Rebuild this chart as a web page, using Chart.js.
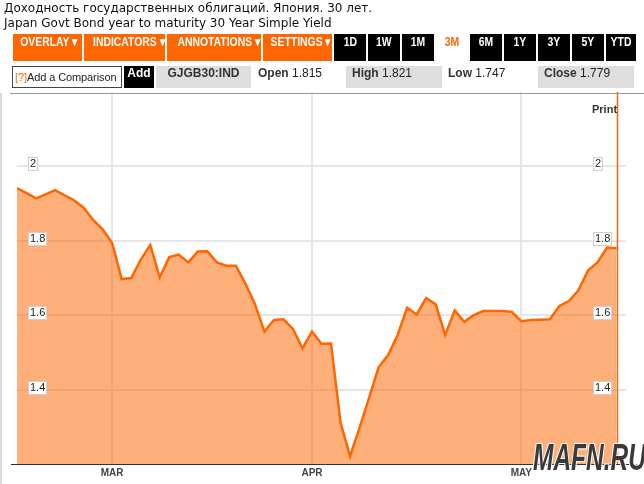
<!DOCTYPE html>
<html>
<head>
<meta charset="utf-8">
<script src="https://cdn.jsdelivr.net/npm/chart.js@4"></script>
<style>
  body { margin: 0; width: 644px; height: 484px; overflow: hidden; background: #fff; position: relative;
         font-family: 'DejaVu Sans', Verdana, sans-serif; }
  #chart { position: absolute; left: 0; top: 0; z-index: 0; }
  .abs { position: absolute; z-index: 1; }
  .t1, .t2 { left: 4px; font-size: 12px; color: #111; white-space: nowrap; }
  .t1 { top: 1px; }
  .t2 { top: 16px; }
  .btn { top: 34px; height: 27px; line-height: 27px; text-align: center; color: #fff; white-space: nowrap;
         font: bold 13px 'Liberation Sans', Arial, sans-serif; overflow: hidden; }
  .btn span { display: inline-block; transform: scaleX(0.8); }
  .or { background: #ff6600; }
  .bk { background: #000; }
  .sel { background: #fff; color: #ff6600; }
  .r2 { top: 66px; height: 22px; line-height: 22px; font: 12px 'Liberation Sans', Arial, sans-serif;
        color: #222; white-space: nowrap; box-sizing: border-box; }
  .gray { background: #dedede; }
  .r2 b { color: #333; }
  .print { left: 592px; top: 103px; font: bold 11px 'Liberation Sans', Arial, sans-serif; color: #333; }
  .wm { left: 533px; top: 437px; font: bold italic 36px 'Liberation Sans', Arial, sans-serif;
        color: #3a3a3a; z-index: 2; transform: scaleX(0.68); transform-origin: left top; white-space: nowrap;
        text-shadow: 1px 1px 0 #fff, -1px -1px 0 #fff, 1px -1px 0 #fff, -1px 1px 0 #fff; }
</style>
</head>
<body>
<canvas id="chart" width="644" height="484"></canvas>

<div class="abs t1">Доходность государственных облигаций. Япония. 30 лет.</div>
<div class="abs t2">Japan Govt Bond year to maturity 30 Year Simple Yield</div>

<div class="abs btn or" style="left:13px;width:69px"><span>OVERLAY ▾</span></div>
<div class="abs btn or" style="left:84px;width:81px"><span>INDICATORS ▾</span></div>
<div class="abs btn or" style="left:167px;width:94px"><span>ANNOTATIONS ▾</span></div>
<div class="abs btn or" style="left:263px;width:69px"><span>SETTINGS ▾</span></div>
<div class="abs btn bk" style="left:334px;width:32px"><span>1D</span></div>
<div class="abs btn bk" style="left:368px;width:32px"><span>1W</span></div>
<div class="abs btn bk" style="left:402px;width:32px"><span>1M</span></div>
<div class="abs btn sel" style="left:436px;width:32px"><span>3M</span></div>
<div class="abs btn bk" style="left:470px;width:32px"><span>6M</span></div>
<div class="abs btn bk" style="left:504px;width:32px"><span>1Y</span></div>
<div class="abs btn bk" style="left:538px;width:32px"><span>3Y</span></div>
<div class="abs btn bk" style="left:572px;width:32px"><span>5Y</span></div>
<div class="abs btn bk" style="left:606px;width:30px"><span>YTD</span></div>

<div class="abs r2" style="left:12px;width:110px;border:1px solid #444;line-height:20px;padding-left:2px;font-size:11px;letter-spacing:-0.1px"><span style="color:#ff6600">[?]</span>Add a Comparison</div>
<div class="abs r2" style="left:124px;width:30px;background:#000;color:#fff;font-weight:bold;text-align:center">Add</div>
<div class="abs r2 gray" style="left:156px;width:95px;text-align:center;font-weight:bold;color:#333">GJGB30:IND</div>
<div class="abs r2" style="left:258px;width:86px"><b>Open</b> 1.815</div>
<div class="abs r2 gray" style="left:346px;width:96px;padding-left:6px"><b>High</b> 1.821</div>
<div class="abs r2" style="left:448px;width:86px"><b>Low</b> 1.747</div>
<div class="abs r2 gray" style="left:538px;width:96px;padding-left:6px"><b>Close</b> 1.779</div>

<div class="abs" style="left:10px;top:93px;width:634px;height:1px;background:#999"></div>
<div class="abs" style="left:0;top:93px;width:2px;height:391px;background:#ddd"></div>
<div class="abs print">Print</div>
<div class="abs wm">MAFN.RU</div>

<script>
// GJGB30 daily close, 3 months of trading days
const yields = [
  1.942, 1.928, 1.914, 1.925, 1.936, 1.922, 1.909, 1.889, 1.856, 1.831,
  1.794, 1.697, 1.700, 1.749, 1.789, 1.702, 1.756, 1.763, 1.742, 1.771,
  1.772, 1.742, 1.733, 1.733, 1.685, 1.630, 1.556, 1.587, 1.589, 1.563,
  1.511, 1.556, 1.523, 1.524, 1.311, 1.221, 1.298, 1.378, 1.460, 1.493,
  1.547, 1.620, 1.602, 1.646, 1.629, 1.547, 1.613, 1.582, 1.600, 1.611,
  1.611, 1.611, 1.609, 1.584, 1.587, 1.588, 1.589, 1.625, 1.638, 1.667,
  1.720, 1.742, 1.782, 1.780
];
// first trading day of each month (index into yields)
const monthIdx = [10, 31, 53];
const monthLabels = ['MAR', 'APR', 'MAY'];
const yTicks = [1.4, 1.6, 1.8, 2];

// boxed price labels on both sides, marker at last point, extended axis line
const overlays = {
  id: 'overlays',
  afterDatasetsDraw(chart) {
    const { ctx, chartArea, scales: { x, y } } = chart;
    ctx.save();
    const lx = Math.round(x.getPixelForValue(yields.length - 1)) + 1.5;
    ctx.strokeStyle = '#ff6600';
    ctx.lineWidth = 1.5;
    ctx.beginPath();
    ctx.moveTo(lx, chartArea.top);
    ctx.lineTo(lx, chartArea.bottom);
    ctx.stroke();

    ctx.strokeStyle = '#333';
    ctx.lineWidth = 1;
    ctx.beginPath();
    ctx.moveTo(11, chartArea.bottom + 0.5);
    ctx.lineTo(640, chartArea.bottom + 0.5);
    ctx.stroke();

    ctx.font = '11px "Liberation Sans", Arial, sans-serif';
    ctx.textBaseline = 'middle';
    yTicks.forEach(v => {
      const py = Math.round(y.getPixelForValue(v));
      const txt = String(v);
      const w = Math.round(ctx.measureText(txt).width) + 4;
      [28, 593].forEach(bx => {
        ctx.fillStyle = '#fff';
        ctx.fillRect(bx, py - 9, w, 14);
        ctx.strokeStyle = '#cfcfcf';
        ctx.strokeRect(bx + 0.5, py - 8.5, w - 1, 13);
        ctx.fillStyle = '#222';
        ctx.fillText(txt, bx + 2, py - 2);
      });
    });
    ctx.restore();
  }
};

new Chart(document.getElementById('chart'), {
  type: 'line',
  data: {
    datasets: [{
      data: yields.map((v, i) => ({ x: i, y: v })),
      borderColor: '#ff6600',
      backgroundColor: 'rgba(255,102,0,0.52)',
      fill: 'start',
      borderWidth: 2.5,
      pointRadius: 0,
      tension: 0,
    }],
  },
  options: {
    responsive: false,
    animation: false,
    layout: { padding: { top: 92, left: 17, right: 18, bottom: 2 } },
    plugins: { legend: { display: false }, tooltip: { enabled: false } },
    scales: {
      x: {
        type: 'linear', min: 0, max: 64,
        afterBuildTicks: s => { s.ticks = monthIdx.map(v => ({ value: v })); },
        ticks: {
          callback: v => monthLabels[monthIdx.indexOf(v)],
          color: '#444', font: { size: 10, weight: 'bold', family: 'Liberation Sans, Arial' },
          maxRotation: 0, autoSkip: false, padding: 3,
        },
        grid: { color: '#e6e6e6', lineWidth: 2, drawTicks: false },
        border: { display: false },
      },
      y: {
        min: 1.2, max: 2.2,
        afterBuildTicks: s => { s.ticks = yTicks.map(v => ({ value: v })); },
        ticks: { display: false },
        grid: { color: '#e6e6e6', lineWidth: 2, drawTicks: false },
        border: { display: false },
      },
    },
  },
  plugins: [overlays],
});
</script>
</body>
</html>
